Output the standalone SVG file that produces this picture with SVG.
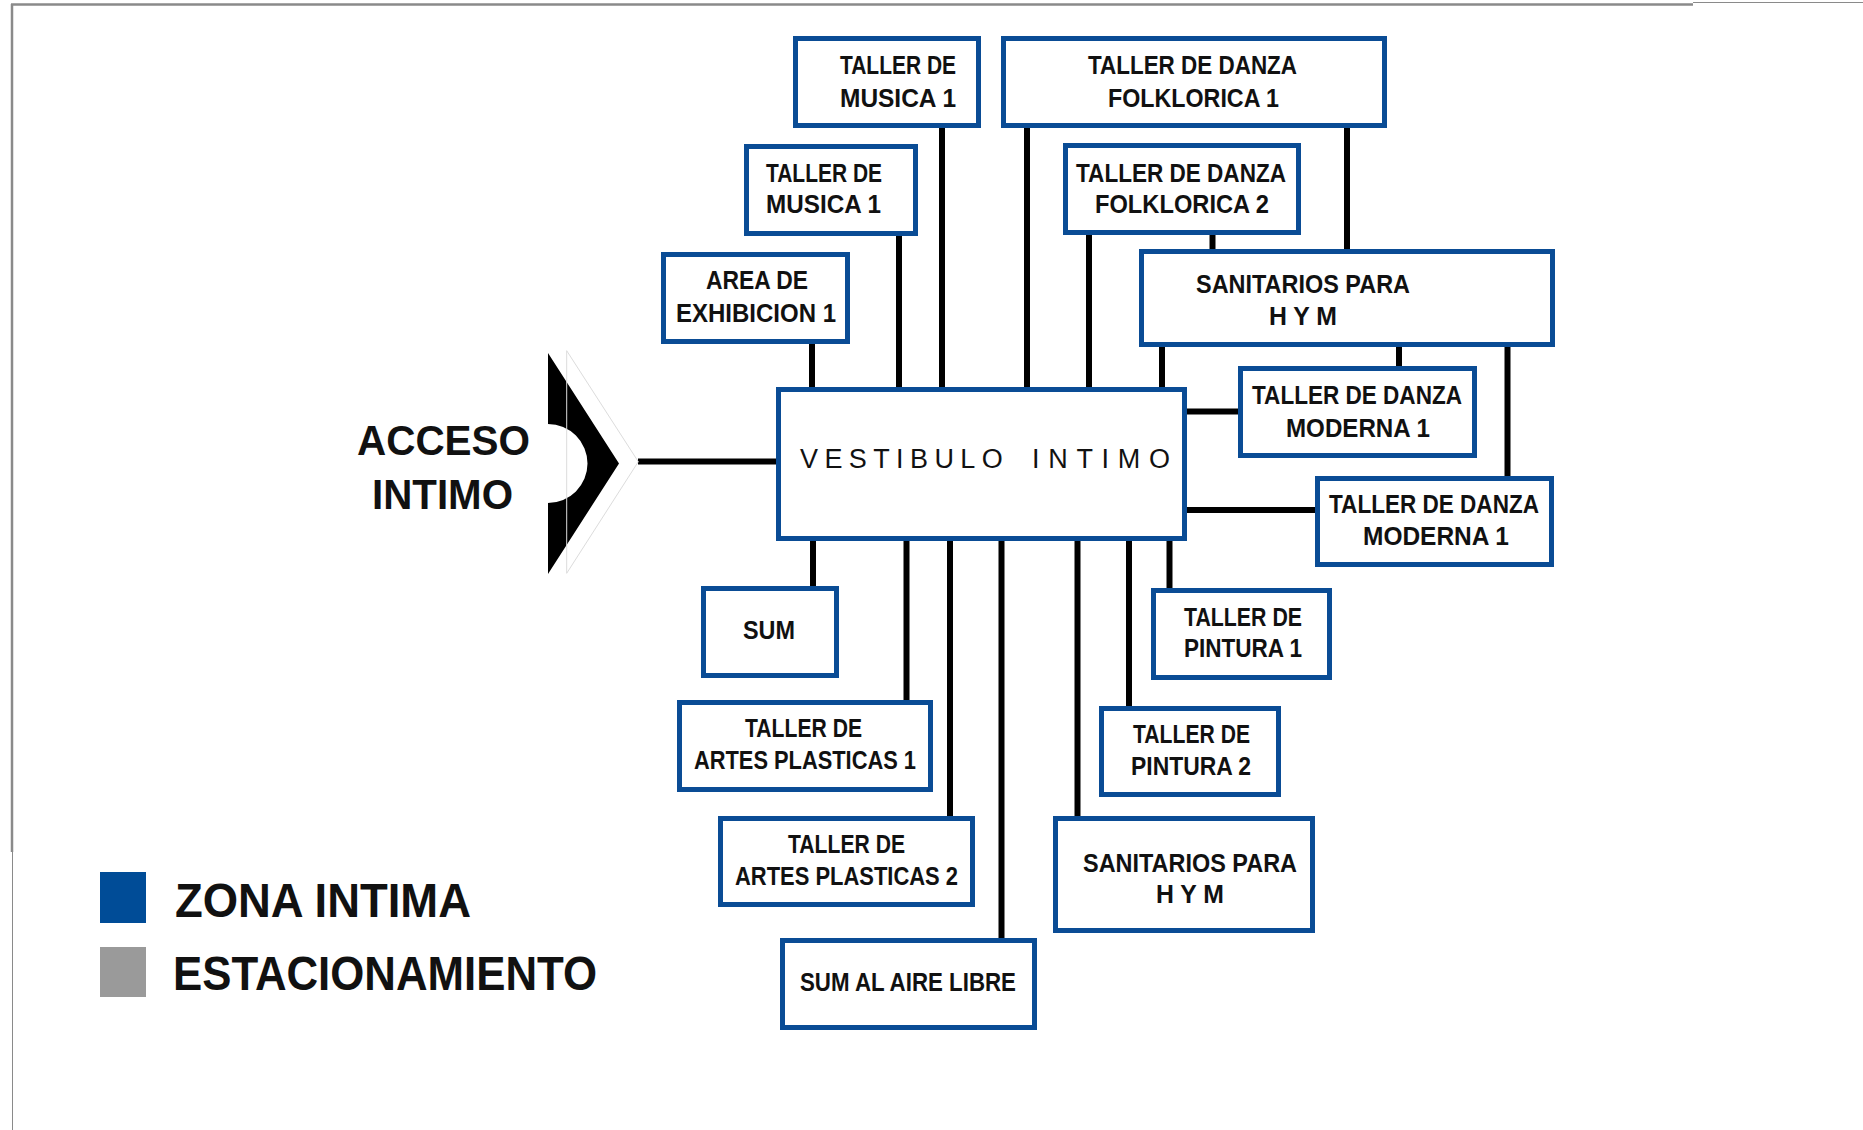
<svg xmlns="http://www.w3.org/2000/svg" width="1863" height="1130" viewBox="0 0 1863 1130">
<style>
.box{fill:#fff;stroke:#0a4c95;stroke-width:5}
.lbl{font-family:"Liberation Sans",Arial,sans-serif;font-weight:bold;font-size:26px;fill:#111}
.big{font-family:"Liberation Sans",Arial,sans-serif;font-weight:bold;fill:#111}
.vest{font-family:"Liberation Sans",Arial,sans-serif;font-size:27px;fill:#111}
.conn line{stroke:#000;stroke-width:6}
.frame{stroke:#8a8a8a;fill:none}
</style>
<rect width="1863" height="1130" fill="#fff"/>
<g id="frame">
<line class="frame" x1="11" y1="4.5" x2="1693" y2="4.5" stroke-width="2.5"/>
<line class="frame" x1="1693" y1="2.5" x2="1863" y2="2.5" stroke-width="1"/>
<line class="frame" x1="12" y1="4" x2="12" y2="852" stroke-width="2.5"/>
<line class="frame" x1="12.5" y1="852" x2="12.5" y2="1130" stroke-width="1"/>
</g>
<g id="connectors" class="conn">
<line x1="812" y1="344" x2="812" y2="389"/>
<line x1="899" y1="236" x2="899" y2="389"/>
<line x1="942" y1="128" x2="942" y2="389"/>
<line x1="1027" y1="128" x2="1027" y2="389"/>
<line x1="1089" y1="235" x2="1089" y2="389"/>
<line x1="1162" y1="347" x2="1162" y2="389"/>
<line x1="1347" y1="128" x2="1347" y2="250"/>
<line x1="1212.5" y1="235" x2="1212.5" y2="250"/>
<line x1="1399" y1="347" x2="1399" y2="367"/>
<line x1="1507.5" y1="347" x2="1507.5" y2="477"/>
<line x1="1185" y1="411.5" x2="1239" y2="411.5"/>
<line x1="1185" y1="510" x2="1316" y2="510"/>
<line x1="638" y1="461.5" x2="778" y2="461.5"/>
<line x1="813" y1="539" x2="813" y2="587"/>
<line x1="906.5" y1="539" x2="906.5" y2="701"/>
<line x1="950" y1="539" x2="950" y2="817"/>
<line x1="1001.5" y1="539" x2="1001.5" y2="939"/>
<line x1="1077.5" y1="539" x2="1077.5" y2="817"/>
<line x1="1129" y1="539" x2="1129" y2="707"/>
<line x1="1169.5" y1="539" x2="1169.5" y2="589"/>
</g>
<g id="acceso">
<path d="M548,353 L619,463.5 L548,574 L548,503 A39.5,39.5 0 0 0 548,424 Z" fill="#000"/>
<path d="M566.7,350.7 L638.3,461.7 L566.7,573.3 Z" fill="none" stroke="#dcdcdc" stroke-width="1"/>
<text class="big" font-size="43" x="357" y="455" textLength="173" lengthAdjust="spacingAndGlyphs">ACCESO</text>
<text class="big" font-size="43" x="372" y="509" textLength="141" lengthAdjust="spacingAndGlyphs">INTIMO</text>
</g>
<g id="vestibulo">
<rect class="box" x="778.5" y="389.5" width="406" height="149"/>
<text class="vest" x="800 824.4 848.8 873.2 896.1 910 934.4 960.3 981.7 1010 1032 1048.2 1076.4 1101.6 1117.8 1149" y="468">VESTIBULO INTIMO</text>
</g>
<g id="musica1a">
<rect class="box" x="795.5" y="38.5" width="183" height="87"/>
<text class="lbl" x="840" y="74" textLength="116" lengthAdjust="spacingAndGlyphs">TALLER DE</text>
<text class="lbl" x="840" y="107" textLength="116" lengthAdjust="spacingAndGlyphs">MUSICA 1</text>
</g>
<g id="musica1b">
<rect class="box" x="746.5" y="146.5" width="169" height="87"/>
<text class="lbl" x="766" y="182" textLength="116" lengthAdjust="spacingAndGlyphs">TALLER DE</text>
<text class="lbl" x="766" y="213" textLength="115" lengthAdjust="spacingAndGlyphs">MUSICA 1</text>
</g>
<g id="exhibicion">
<rect class="box" x="663.5" y="254.5" width="184" height="87"/>
<text class="lbl" x="706" y="289" textLength="102" lengthAdjust="spacingAndGlyphs">AREA DE</text>
<text class="lbl" x="676" y="322" textLength="160" lengthAdjust="spacingAndGlyphs">EXHIBICION 1</text>
</g>
<g id="folklorica1">
<rect class="box" x="1003.5" y="38.5" width="381" height="87"/>
<text class="lbl" x="1088" y="74" textLength="209" lengthAdjust="spacingAndGlyphs">TALLER DE DANZA</text>
<text class="lbl" x="1108" y="107" textLength="171" lengthAdjust="spacingAndGlyphs">FOLKLORICA 1</text>
</g>
<g id="folklorica2">
<rect class="box" x="1065.5" y="145.5" width="233" height="87"/>
<text class="lbl" x="1076" y="182" textLength="210" lengthAdjust="spacingAndGlyphs">TALLER DE DANZA</text>
<text class="lbl" x="1095" y="213" textLength="174" lengthAdjust="spacingAndGlyphs">FOLKLORICA 2</text>
</g>
<g id="sanitarios1">
<rect class="box" x="1141.5" y="251.5" width="411" height="93"/>
<text class="lbl" x="1196" y="293" textLength="214" lengthAdjust="spacingAndGlyphs">SANITARIOS PARA</text>
<text class="lbl" x="1269" y="325" textLength="68" lengthAdjust="spacingAndGlyphs">H Y M</text>
</g>
<g id="moderna1a">
<rect class="box" x="1240.5" y="368.5" width="234" height="87"/>
<text class="lbl" x="1252" y="404" textLength="210" lengthAdjust="spacingAndGlyphs">TALLER DE DANZA</text>
<text class="lbl" x="1286" y="437" textLength="144" lengthAdjust="spacingAndGlyphs">MODERNA 1</text>
</g>
<g id="moderna1b">
<rect class="box" x="1317.5" y="478.5" width="234" height="86"/>
<text class="lbl" x="1329" y="513" textLength="210" lengthAdjust="spacingAndGlyphs">TALLER DE DANZA</text>
<text class="lbl" x="1363" y="545" textLength="146" lengthAdjust="spacingAndGlyphs">MODERNA 1</text>
</g>
<g id="pintura1">
<rect class="box" x="1153.5" y="590.5" width="176" height="87"/>
<text class="lbl" x="1184" y="626" textLength="118" lengthAdjust="spacingAndGlyphs">TALLER DE</text>
<text class="lbl" x="1184" y="657" textLength="118" lengthAdjust="spacingAndGlyphs">PINTURA 1</text>
</g>
<g id="pintura2">
<rect class="box" x="1101.5" y="708.5" width="177" height="86"/>
<text class="lbl" x="1133" y="743" textLength="117" lengthAdjust="spacingAndGlyphs">TALLER DE</text>
<text class="lbl" x="1131" y="775" textLength="120" lengthAdjust="spacingAndGlyphs">PINTURA 2</text>
</g>
<g id="sanitarios2">
<rect class="box" x="1055.5" y="818.5" width="257" height="112"/>
<text class="lbl" x="1083" y="872" textLength="214" lengthAdjust="spacingAndGlyphs">SANITARIOS PARA</text>
<text class="lbl" x="1156" y="903" textLength="68" lengthAdjust="spacingAndGlyphs">H Y M</text>
</g>
<g id="sum">
<rect class="box" x="703.5" y="588.5" width="133" height="87"/>
<text class="lbl" x="743" y="639" textLength="52" lengthAdjust="spacingAndGlyphs">SUM</text>
</g>
<g id="artes1">
<rect class="box" x="679.5" y="702.5" width="251" height="87"/>
<text class="lbl" x="745" y="737" textLength="117" lengthAdjust="spacingAndGlyphs">TALLER DE</text>
<text class="lbl" x="694" y="769" textLength="222" lengthAdjust="spacingAndGlyphs">ARTES PLASTICAS 1</text>
</g>
<g id="artes2">
<rect class="box" x="720.5" y="818.5" width="252" height="86"/>
<text class="lbl" x="788" y="853" textLength="117" lengthAdjust="spacingAndGlyphs">TALLER DE</text>
<text class="lbl" x="735" y="885" textLength="223" lengthAdjust="spacingAndGlyphs">ARTES PLASTICAS 2</text>
</g>
<g id="sumaire">
<rect class="box" x="782.5" y="940.5" width="252" height="87"/>
<text class="lbl" x="800" y="991" textLength="216" lengthAdjust="spacingAndGlyphs">SUM AL AIRE LIBRE</text>
</g>
<g id="legend">
<rect x="100" y="872" width="46" height="51" fill="#004c97"/>
<rect x="100" y="947" width="46" height="50" fill="#9a9a9a"/>
<text class="big" font-size="48" x="175" y="917" textLength="296" lengthAdjust="spacingAndGlyphs">ZONA INTIMA</text>
<text class="big" font-size="48" x="173" y="990" textLength="424" lengthAdjust="spacingAndGlyphs">ESTACIONAMIENTO</text>
</g>
</svg>
